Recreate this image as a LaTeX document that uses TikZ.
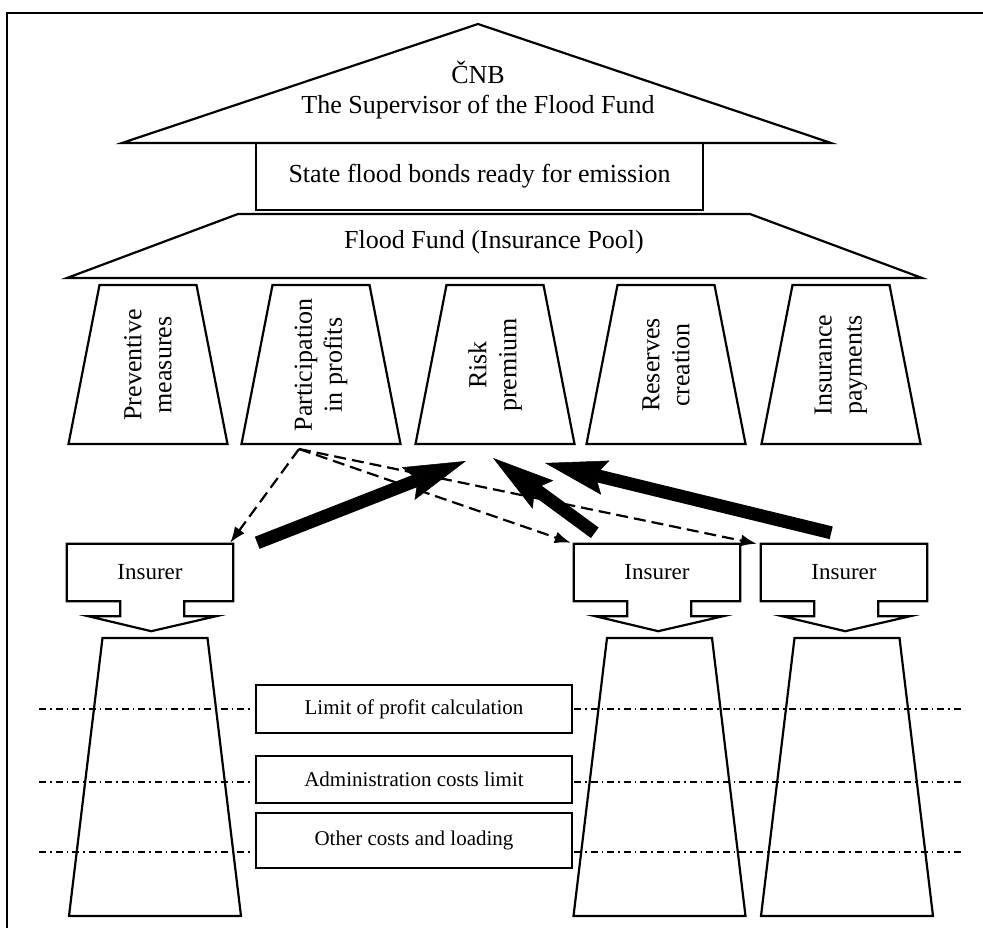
\documentclass[tikz,border=0pt]{standalone}
\usepackage{fontspec}
\setmainfont{Liberation Serif}
\usetikzlibrary{arrows.meta, calc}
\tikzset{
  outline/.style={line width=2.2pt, line join=miter},
  bigtext/.style={font=\fontsize{26}{30}\selectfont, align=center},
  coltext/.style={font=\fontsize{26}{30}\selectfont, align=center, rotate=90},
  insurer/.style={minimum width=166pt, minimum height=57pt, inner sep=0pt, font=\fontsize{23}{26}\selectfont},
  limitbox/.style={draw, line width=2.2pt, minimum width=316pt, inner sep=0pt, font=\fontsize{21}{24}\selectfont},
  share/.style={line width=2.2pt, dash pattern=on 12pt off 6pt, -{Latex[length=16pt,width=12pt]}},
  flow/.style={line width=13pt, -{Stealth[length=62pt,width=35pt,inset=10pt,line width=0.5pt]}},
  cutline/.style={line width=1.5pt, dash pattern=on 7pt off 4pt on 1.5pt off 4pt}
}

\begin{document}
\begin{tikzpicture}[x=1pt, y=-1pt]
\useasboundingbox (0,0) rectangle (983,928);

% frame
\draw[line width=1.8pt] (7,928) -- (7,13) -- (983,13);

% roof
\draw[outline] (122,143) -- (478,24) -- (831,143) -- cycle;
\node[bigtext] (cnb) at (478,90) {ČNB\\The Supervisor of the Flood Fund};

\node[draw, line width=2.2pt, minimum width=447pt, minimum height=67pt, bigtext] (bonds) at (479.5,176.5) {State flood bonds ready for emission};

% pool
\draw[outline] (238,214) -- (750,214) -- (922,278) -- (67,278) -- cycle;
\node[bigtext] (fund) at (494,242) {Flood Fund (Insurance Pool)};

% columns
\foreach \cx/\name/\txt in {148/prev/{Preventive\\measures}, 321/part/{Participation\\in profits}, 495/risk/{Risk\\premium}, 666/res/{Reserves\\creation}, 841/pay/{Insurance\\payments}} {
  \draw[outline] (\cx-48.5,285) -- (\cx+48.5,285) -- (\cx+79.5,444) -- (\cx-79.5,444) -- cycle;
  \node[coltext] (\name) at (\cx,365) {\txt};
}

% insurers
\foreach \lx/\name in {67/ins1, 574/ins2, 761/ins3} {
  \node[insurer] (\name) at (\lx+83,572.5) {Insurer};
  \draw[outline] (\name.north west) -- (\name.north east) -- (\name.south east) -- ++(-49,0) -- ++(0,15) -- ++(32,0) -- ++(-65,15) -- ++(-63,-15) -- ++(32,0) -- ++(0,-15) -- (\name.south west) -- cycle;
}

% insurers' funds
\foreach \cx in {155,659.5,847}
  \draw[outline] (\cx-52.5,638) -- (\cx+52.5,638) -- (\cx+86,916) -- (\cx-86,916) -- cycle;

\node[limitbox, minimum height=48pt] (lim) at (414,709) {Limit of profit calculation};
\node[limitbox, minimum height=47pt] (adm) at (414,779.5) {Administration costs limit};
\node[limitbox, minimum height=55pt] (oth) at (414,840.5) {Other costs and loading};

\foreach \ly in {709,782,852} {
  \draw[cutline] (39,\ly) -- (250,\ly);
  \draw[cutline] (574,\ly) -- (963,\ly);
}

% profit sharing
\coordinate (split) at (299,449);
\draw[share] (split) -- ($(ins1.north east)+(-3,-1)$);
\draw[share] (split) -- ($(ins2.north west)+(-3,-1)$);
\draw[share] (split) -- ($(ins3.north west)+(-4,0)$);

% premiums
\coordinate (h1) at (466,461);
\coordinate (h2) at (493,458);
\coordinate (h3) at (545,463);
\draw[flow] ($(ins1.north east)+(24,-1)$) -- (h1);
\draw[flow] ($(ins2.north west)+(21,-11)$) -- (h2);
\draw[flow] ($(ins3.north east)+(-96,-11)$) -- (h3);

\end{tikzpicture}
\end{document}
